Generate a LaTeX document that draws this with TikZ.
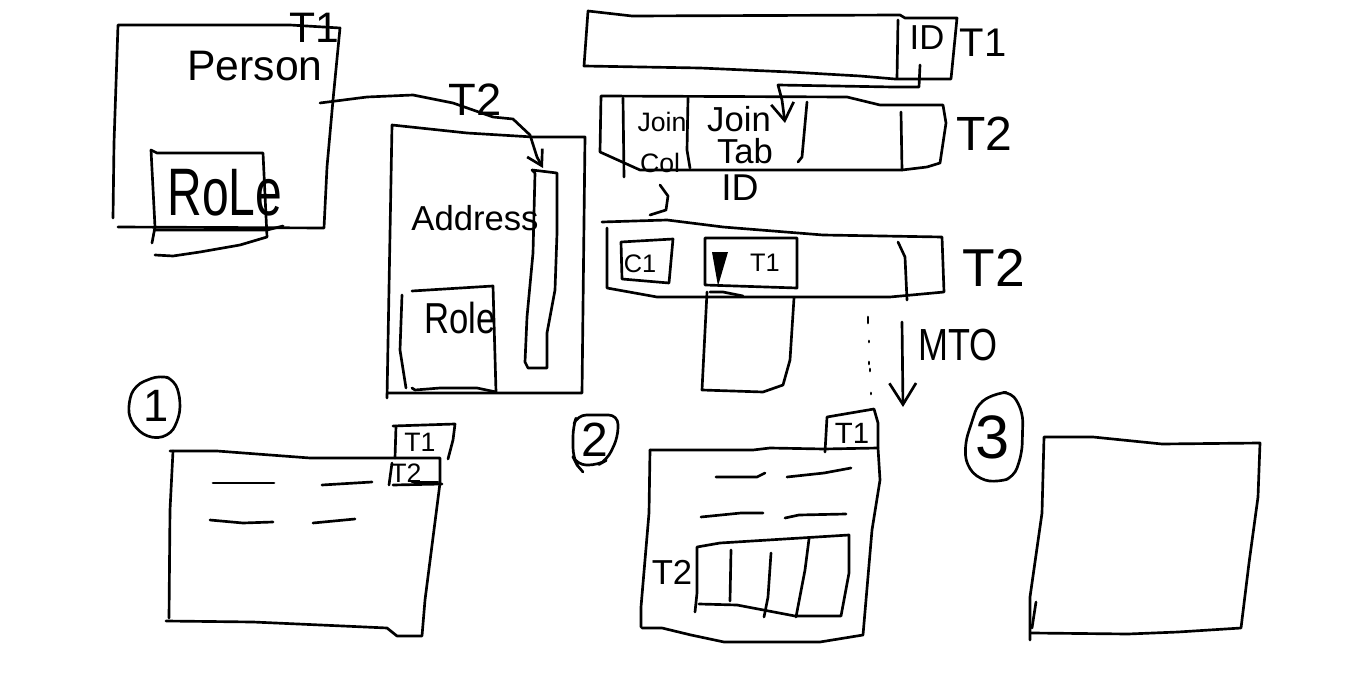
\documentclass[tikz,border=0pt]{standalone}
\usepackage{fontspec}
\setmainfont{Liberation Sans}
\usetikzlibrary{arrows.meta}
\tikzset{
  ink/.style={line width=2pt,line join=round,line cap=round,black},
  ring/.style={ink,rounded corners=7pt},
  link/.style={ink,-{Straight Barb[length=11pt,width=13pt,line width=2pt]}},
  lbl/.style={inner sep=0pt,outer sep=0pt,align=center,text=black},
}
\newcommand{\fs}[1]{\fontsize{#1}{#1}\selectfont}
\begin{document}
\begin{tikzpicture}[x=0.75pt,y=-0.75pt]
\useasboundingbox (0,0) rectangle (1360,688);
% Person block
\draw[ink] (113,218) -- (114,143) -- (118,25) -- (290,25) -- (340,28) -- (333,100) -- (327,167) -- (324,228) -- (118,227);
\draw[ink] (152,243) -- (155,227) -- (151,150) -- (157,153) -- (263,153) -- (267,237) -- (240,245) -- (200,252) -- (173,256) -- (155,255);
\draw[ink] (155,230) -- (267,230) -- (283,226);
\node[lbl] (person) at (255,66) {\fs{32}Person};
\node[lbl] (ptone) at (314,28) {\fs{32}T1};
\node[lbl] (prole) at (225,193) {\fs{36}\scalebox{1}[1.4]{RoLe}};
% Address block
\draw[ink] (387,398) -- (392,125) -- (467,133) -- (533,137) -- (585,137) -- (582,393) -- (387,393);
\draw[ink] (535,173) -- (532,170) -- (557,173) -- (557,233) -- (555,290) -- (547,333) -- (547,368) -- (528,368) -- (525,362) -- (527,317) -- (533,253) -- (535,173);
\draw[ink] (412,291) -- (493,286) -- (496,392) -- (477,388) -- (440,388) -- (415,390) -- (412,388);
\draw[ink] (402,295) -- (400,350) -- (406,388);
\node[lbl] (addr) at (475,218) {\fs{26}Address};
\node[lbl] (arole) at (460,318) {\fs{26}\scalebox{1}[1.25]{Role}};
\node[lbl] (atwo) at (475,100) {\fs{34}T2};
\coordinate (curvestart) at (320,103);
\coordinate (curveend) at (543,168);
\draw[link] (curvestart) -- (367,97) -- (413,95) -- (453,103) -- (493,117) -- (513,119) -- (530,135) -- (537,157) -- (curveend);
% T1 bar
\draw[ink] (588,11) -- (632,16) -- (900,15) -- (905,18) -- (957,18) -- (951,79) -- (895,79) -- (860,76) -- (790,72) -- (700,68) -- (584,66) -- cycle;
\draw[ink] (898,20) -- (897,78);
\node[lbl] (id) at (927,38) {\fs{26}ID};
\node[lbl] (tone) at (983,43) {\fs{30}T1};
\coordinate (idstart) at (920,65);
\coordinate (idend) at (785,123);
\draw[ink,-{Straight Barb[length=13pt,width=17pt,line width=2pt]}] (idstart) -- (919,87) -- (893,87) -- (778,85) -- (782,100) -- (idend);
% T2 bar
\draw[ink] (601,96) -- (847,97) -- (880,105) -- (943,105) -- (946,123) -- (940,163) -- (927,167) -- (902,170) -- (640,170) -- (600,152) -- cycle;
\draw[ink] (623,98) -- (624,177);
\draw[ink] (688,98) -- (687,150) -- (690,168);
\draw[ink] (807,102) -- (802,157) -- (798,162);
\draw[ink] (901,112) -- (902,170);
\node[lbl] (join) at (662,122) {\fs{20}Join};
\node[lbl] (col) at (660,163) {\fs{20}Col};
\node[lbl] (joinb) at (739,119) {\fs{26}Join};
\node[lbl] (tab) at (745,151) {\fs{26}Tab};
\node[lbl] (tabid) at (740,188) {\fs{28}ID};
\node[lbl] (ttwo) at (984,134) {\fs{36}T2};
\draw[ink] (660,185) -- (668,196) -- (666,210) -- (650,215);
% Third bar
\draw[ink] (602,222) -- (667,220) -- (723,227) -- (823,235) -- (942,237) -- (944,292) -- (890,297) -- (657,297) -- (607,288) -- (607,228);
\draw[ink] (621,242) -- (673,239) -- (669,283) -- (622,279) -- cycle;
\draw[ink] (705,238) -- (797,238) -- (797,288) -- (705,285) -- cycle;
\fill[black] (712,252) -- (728,252) -- (718,286) -- cycle;
\draw[ink] (898,242) -- (905,257) -- (907,300);
\node[lbl] (cone) at (640,264) {\fs{19}C1};
\node[lbl] (tbox) at (765,263) {\fs{19}T1};
\node[lbl] (tthree) at (994,268) {\fs{40}T2};
\draw[ink] (707,292) -- (702,390) -- (763,392) -- (783,385) -- (790,360) -- (794,298);
\draw[ink] (710,292) -- (723,292) -- (743,296);
% dots
\draw[ink] (868,317) -- (868,323);
\draw[ink] (869,341) -- (869,342);
\draw[ink] (869,362) -- (869,364);
\draw[ink] (870,369) -- (870,371);
\draw[ink] (871,393) -- (871,394);
\coordinate (mtostart) at (902,322);
\coordinate (mtoend) at (903,407);
\draw[ink,-{Straight Barb[length=16pt,width=20pt,line width=2pt]}] (mtostart) -- (mtoend);
\node[lbl] (mto) at (958,345) {\fs{27}\scalebox{1}[1.25]{MTO}};
% circled numbers
\draw[ring] (160,375) -- (175,380) -- (181,402) -- (178,422) -- (168,437) -- (147,438) -- (130,422) -- (128,403) -- (135,385) -- cycle;
\node[lbl] (numone) at (156,406) {\fs{34}1};
\draw[ring] (577,415) -- (618,415) -- (618,437) -- (607,460) -- (598,465) -- (577,465) -- (573,457) -- (573,427) -- cycle;
\draw[ink] (577,465) -- (583,472);
\node[lbl] (numtwo) at (595,440) {\fs{36}2};
\draw[ring] (1012,392) -- (1023,413) -- (1022,453) -- (1014,477) -- (999,482) -- (980,480) -- (966,465) -- (965,443) -- (978,403) -- (997,393) -- cycle;
\node[lbl] (numthree) at (993,437) {\fs{46}3};
% Box 1
\draw[ink] (166,621) -- (253,622) -- (343,626) -- (387,628) -- (397,636) -- (422,636) -- (425,600) -- (440,483) -- (440,458) -- (393,458) -- (310,458) -- (217,451) -- (170,451);
\draw[ink] (173,451) -- (170,510) -- (169,618);
\draw[ink] (396,426) -- (393,426) -- (455,424) -- (453,440) -- (448,459);
\draw[ink] (396,426) -- (395,458);
\draw[ink] (392,463) -- (389,485);
\draw[ink] (393,485) -- (442,484);
\draw[ink] (412,482) -- (438,482);
\node[lbl] (onetone) at (420,442) {\fs{20}T1};
\node[lbl] (onettwo) at (406,473) {\fs{20}T2};
\draw[ink] (213,483) -- (274,483);
\draw[ink] (322,485) -- (372,482);
\draw[ink] (210,520) -- (243,523) -- (273,522);
\draw[ink] (313,523) -- (355,519);
% Box 2
\draw[ink] (650,450) -- (753,450) -- (770,448) -- (824,449) -- (878,448) -- (880,480) -- (872,530) -- (863,635) -- (820,642) -- (724,642) -- (691,635) -- (662,628) -- (642,628);
\draw[ink] (650,450) -- (649,513) -- (641,607) -- (641,627);
\draw[ink] (825,452) -- (827,417) -- (874,409) -- (878,423) -- (878,448);
\node[lbl] (twotone) at (852,433) {\fs{22}T1};
\draw[ink] (716,477) -- (757,477) -- (765,473);
\draw[ink] (787,477) -- (824,473) -- (851,468);
\draw[ink] (701,517) -- (741,513) -- (763,513);
\draw[ink] (785,518) -- (799,515) -- (846,514);
\draw[ink] (695,612) -- (697,593) -- (697,547) -- (720,543) -- (849,535) -- (849,573) -- (841,616) -- (795,616) -- (737,605) -- (699,604);
\draw[ink] (731,550) -- (730,601);
\draw[ink] (771,553) -- (768,597) -- (764,617);
\draw[ink] (809,539) -- (805,570) -- (796,617);
\node[lbl] (twottwo) at (672,572) {\fs{26}T2};
% Box 3
\draw[ink] (1030,640) -- (1030,597) -- (1042,513) -- (1044,437) -- (1093,437) -- (1162,444) -- (1260,443) -- (1258,497) -- (1249,563) -- (1241,628) -- (1178,632) -- (1128,634) -- (1032,633);
\draw[ink] (1036,602) -- (1032,628);
\end{tikzpicture}
\end{document}
